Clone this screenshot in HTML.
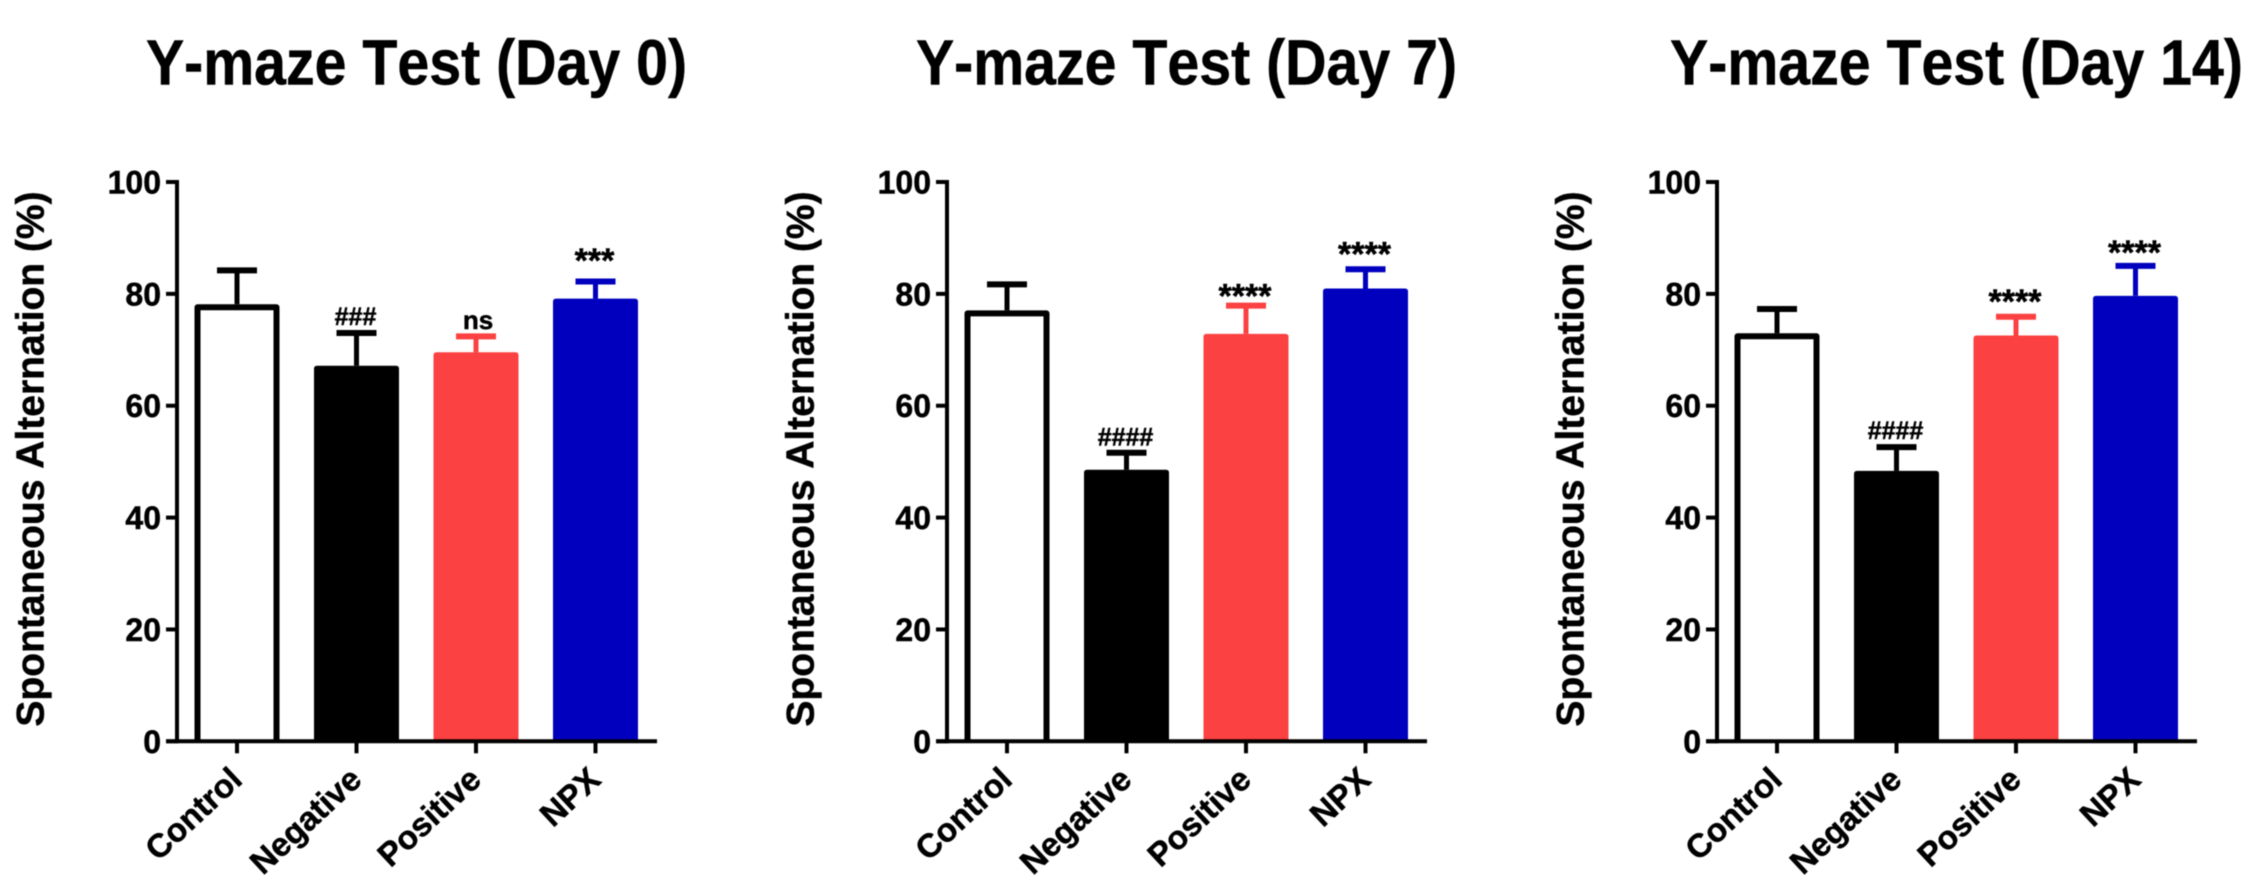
<!DOCTYPE html>
<html lang="en">
<head>
<meta charset="utf-8">
<title>Y-maze Test</title>
<style>
html,body{margin:0;padding:0;background:#fff;width:2248px;height:892px;overflow:hidden}
svg{display:block;filter:blur(0.6px)}
text{font-family:"Liberation Sans",Arial,sans-serif;font-weight:bold;fill:#000;stroke:#000;stroke-width:0.5px;font-kerning:none}
</style>
</head>
<body>
<svg id="chart" xmlns="http://www.w3.org/2000/svg" width="2248" height="892" viewBox="0 0 2248 892"></svg>
<script>
const categories = ['Control', 'Negative', 'Positive', 'NPX'];
const yTickLabels = [0, 20, 40, 60, 80, 100];
const panelTitles = ['Y-maze Test (Day 0)', 'Y-maze Test (Day 7)', 'Y-maze Test (Day 14)'];
const barFills = ['#ffffff', '#000000', '#fb4141', '#0000be'];

const day0Means = [78.15, 67.15, 69.55, 79.15];
const day0ErrorTops = [84.2, 73.0, 72.4, 82.2];
const day0Marks = ['', '###', 'ns', '***'];
const day0MarkLevels = [null, 76.0, 75.0, 87.3];

const day7Means = [77.05, 48.55, 72.85, 80.95];
const day7ErrorTops = [81.7, 51.6, 77.9, 84.4];
const day7Marks = ['', '####', '****', '****'];
const day7MarkLevels = [null, 54.5, 81.0, 88.5];

const day14Means = [72.95, 48.35, 72.55, 79.65];
const day14ErrorTops = [77.3, 52.6, 75.9, 85.0];
const day14Marks = ['', '####', '****', '****'];
const day14MarkLevels = [null, 55.7, 80.0, 88.7];

const panelMeans = [day0Means, day7Means, day14Means];
const panelErrorTops = [day0ErrorTops, day7ErrorTops, day14ErrorTops];
const panelMarks = [day0Marks, day7Marks, day14Marks];
const panelMarkLevels = [day0MarkLevels, day7MarkLevels, day14MarkLevels];

const svg = document.getElementById('chart');
const NS = 'http://www.w3.org/2000/svg';
const plotTop = 182, plotBottom = 741.3, yMax = 100;
const firstAxisX = 177, panelStep = 770;
const firstTickGap = 60, categoryStep = 119.5;
const barWidth = 85, capWidth = 40;

function yScale(v) { return plotBottom - (v / yMax) * (plotBottom - plotTop); }
function xScale(axisX, i) { return axisX + firstTickGap + i * categoryStep; }

function make(tag, attrs, parent) {
  const el = document.createElementNS(NS, tag);
  for (const k in attrs) el.setAttribute(k, attrs[k]);
  parent.appendChild(el);
  return el;
}
function slug(s) { return s.toLowerCase().replace(/[^a-z0-9]+/g, '-').replace(/-$/, ''); }

panelTitles.forEach(function (title, p) {
  const axisX = firstAxisX + p * panelStep;
  const g = make('g', {}, svg);
  
  

  const t = make('text', { transform: 'translate(' + (axisX + 239.5) + ',84.5) scale(0.895,1)', 'text-anchor': 'middle', 'font-size': 64 }, g);
  t.textContent = title;
  
  

  const yt = make('text', { transform: 'translate(' + (axisX - 133.5) + ',459) rotate(-90)', 'text-anchor': 'middle', 'font-size': 39 }, g);
  yt.textContent = 'Spontaneous Alternation (%)';
  
  

  categories.forEach(function (cat, i) {
    const cx = xScale(axisX, i);
    const mean = panelMeans[p][i];
    const top = panelErrorTops[p][i];
    const fill = barFills[i];
    const stroke = i === 0 ? '#000000' : fill;

    const stem = make('line', { x1: cx, x2: cx, y1: yScale(top), y2: yScale(mean), stroke: stroke, 'stroke-width': 5 }, g);
    
    

    const cap = make('line', { x1: cx - capWidth / 2, x2: cx + capWidth / 2, y1: yScale(top), y2: yScale(top), stroke: stroke, 'stroke-width': 6 }, g);
    
    

    let bar;
    if (i === 0) {
      const l = cx - barWidth / 2 + 3, r = cx + barWidth / 2 - 3, y = yScale(mean) + 3;
      bar = make('path', { d: 'M' + l + ' ' + plotBottom + 'V' + y + 'H' + r + 'V' + plotBottom, fill: '#ffffff', stroke: '#000000', 'stroke-width': 6, 'stroke-linejoin': 'round' }, g);
    } else {
      bar = make('path', {
        d: 'M' + (cx - barWidth / 2) + ' ' + plotBottom + 'V' + (yScale(mean) + 3) +
           'Q' + (cx - barWidth / 2) + ' ' + yScale(mean) + ' ' + (cx - barWidth / 2 + 3) + ' ' + yScale(mean) +
           'H' + (cx + barWidth / 2 - 3) +
           'Q' + (cx + barWidth / 2) + ' ' + yScale(mean) + ' ' + (cx + barWidth / 2) + ' ' + (yScale(mean) + 3) +
           'V' + plotBottom + 'Z',
        fill: fill }, g);
    }
    
    

    const mark = panelMarks[p][i];
    if (mark) {
      const first = mark.charAt(0);
      const size = first === '#' ? 25 : first === '*' ? 34 : 26;
      const drop = first === '#' ? 9 : first === '*' ? 19 : 7;
      const mt = make('text', { x: cx + (first === 'n' ? 2 : -1), y: yScale(panelMarkLevels[p][i]) + drop, 'text-anchor': 'middle', 'font-size': size }, g);
      mt.textContent = mark;
      
      
    }

    const tick = make('line', { x1: cx, x2: cx, y1: plotBottom, y2: plotBottom + 12, stroke: '#000', 'stroke-width': 4 }, g);
    
    

    const lab = make('text', { transform: 'translate(' + (cx + 7) + ',782) rotate(-43)', 'text-anchor': 'end', 'font-size': 33 }, g);
    lab.textContent = cat;
    
    
  });

  yTickLabels.forEach(function (v) {
    const y = yScale(v);
    const tk = make('line', { x1: axisX - 11, x2: axisX, y1: y, y2: y, stroke: '#000', 'stroke-width': 4 }, g);
    
    

    const tl = make('text', { x: axisX - 16, y: y + 11.5, 'text-anchor': 'end', 'font-size': 32 }, g);
    tl.textContent = v;
    
    
  });

  const yAxis = make('line', { x1: axisX, x2: axisX, y1: plotTop - 2, y2: plotBottom + 2, stroke: '#000', 'stroke-width': 4 }, g);
  
  

  const xAxis = make('line', { x1: axisX - 11, x2: axisX + 480, y1: plotBottom, y2: plotBottom, stroke: '#000', 'stroke-width': 4 }, g);
  
  
});
</script>
</body>
</html>
